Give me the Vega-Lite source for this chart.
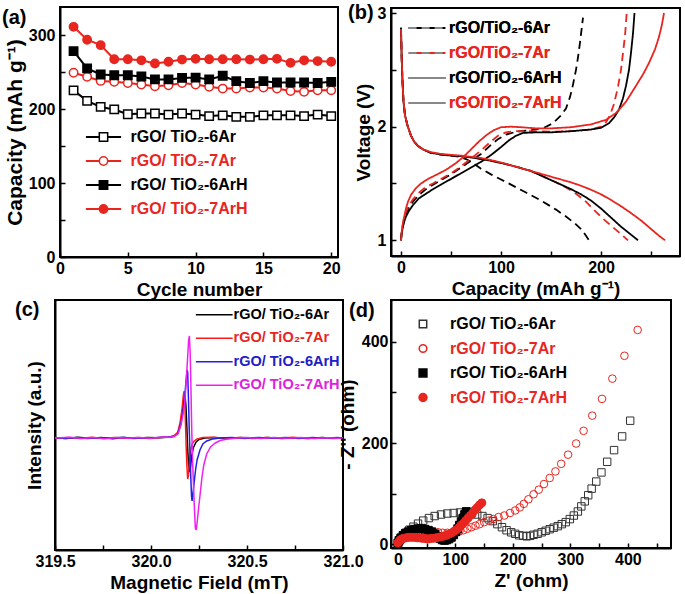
{
  "$schema": "https://vega.github.io/schema/vega-lite/v6.json",
  "background": "white",
  "padding": {"left": 1, "top": 2, "right": 0, "bottom": 0},
  "config": {
    "font": "Liberation Sans",
    "view": {"stroke": "black", "strokeWidth": 2},
    "axis": {
      "grid": false, "domainColor": "black", "domainWidth": 2,
      "tickColor": "black", "tickWidth": 1.5, "tickSize": -5,
      "labelFont": "Liberation Sans", "labelFontSize": 16, "labelFontWeight": "bold", "labelColor": "black",
      "labelPadding": 8, "labelFlush": false, "labelOverlap": false,
      "titleFont": "Liberation Sans", "titleFontSize": 19, "titleFontWeight": "bold", "titleColor": "black"
    },
    "legend": {
      "labelFont": "Liberation Sans", "labelFontSize": 16, "labelFontWeight": "bold",
      "padding": 0, "orient": "none"
    },
    "title": {"font": "Liberation Sans", "fontSize": 20, "fontWeight": "bold", "color": "black", "anchor": "start", "frame": "group", "baseline": "middle", "offset": 0}
  },
  "datasets": {
    "a": [
      {"s":"rGO/ TiO₂-6Ar","c":1,"v":225.3},{"s":"rGO/ TiO₂-6Ar","c":2,"v":211.1},{"s":"rGO/ TiO₂-6Ar","c":3,"v":202.9},{"s":"rGO/ TiO₂-6Ar","c":4,"v":199.5},{"s":"rGO/ TiO₂-6Ar","c":5,"v":193.0},{"s":"rGO/ TiO₂-6Ar","c":6,"v":194.0},{"s":"rGO/ TiO₂-6Ar","c":7,"v":194.0},{"s":"rGO/ TiO₂-6Ar","c":8,"v":192.5},{"s":"rGO/ TiO₂-6Ar","c":9,"v":194.0},{"s":"rGO/ TiO₂-6Ar","c":10,"v":192.5},{"s":"rGO/ TiO₂-6Ar","c":11,"v":190.5},{"s":"rGO/ TiO₂-6Ar","c":12,"v":191.5},{"s":"rGO/ TiO₂-6Ar","c":13,"v":189.5},{"s":"rGO/ TiO₂-6Ar","c":14,"v":189.5},{"s":"rGO/ TiO₂-6Ar","c":15,"v":191.5},{"s":"rGO/ TiO₂-6Ar","c":16,"v":191.5},{"s":"rGO/ TiO₂-6Ar","c":17,"v":191.5},{"s":"rGO/ TiO₂-6Ar","c":18,"v":190.5},{"s":"rGO/ TiO₂-6Ar","c":19,"v":192.5},{"s":"rGO/ TiO₂-6Ar","c":20,"v":190.5},
      {"s":"rGO/ TiO₂-7Ar","c":1,"v":249.1},{"s":"rGO/ TiO₂-7Ar","c":2,"v":243.6},{"s":"rGO/ TiO₂-7Ar","c":3,"v":238.1},{"s":"rGO/ TiO₂-7Ar","c":4,"v":236.8},{"s":"rGO/ TiO₂-7Ar","c":5,"v":235.2},{"s":"rGO/ TiO₂-7Ar","c":6,"v":233.2},{"s":"rGO/ TiO₂-7Ar","c":7,"v":230.9},{"s":"rGO/ TiO₂-7Ar","c":8,"v":232.2},{"s":"rGO/ TiO₂-7Ar","c":9,"v":235.2},{"s":"rGO/ TiO₂-7Ar","c":10,"v":233.2},{"s":"rGO/ TiO₂-7Ar","c":11,"v":230.2},{"s":"rGO/ TiO₂-7Ar","c":12,"v":227.7},{"s":"rGO/ TiO₂-7Ar","c":13,"v":227.7},{"s":"rGO/ TiO₂-7Ar","c":14,"v":229.2},{"s":"rGO/ TiO₂-7Ar","c":15,"v":229.2},{"s":"rGO/ TiO₂-7Ar","c":16,"v":227.7},{"s":"rGO/ TiO₂-7Ar","c":17,"v":224.3},{"s":"rGO/ TiO₂-7Ar","c":18,"v":223.3},{"s":"rGO/ TiO₂-7Ar","c":19,"v":225.3},{"s":"rGO/ TiO₂-7Ar","c":20,"v":225.3},
      {"s":"rGO/ TiO₂-6ArH","c":1,"v":278.3},{"s":"rGO/ TiO₂-6ArH","c":2,"v":255.0},{"s":"rGO/ TiO₂-6ArH","c":3,"v":246.7},{"s":"rGO/ TiO₂-6ArH","c":4,"v":245.8},{"s":"rGO/ TiO₂-6ArH","c":5,"v":245.8},{"s":"rGO/ TiO₂-6ArH","c":6,"v":244.1},{"s":"rGO/ TiO₂-6ArH","c":7,"v":240.1},{"s":"rGO/ TiO₂-6ArH","c":8,"v":240.1},{"s":"rGO/ TiO₂-6ArH","c":9,"v":242.1},{"s":"rGO/ TiO₂-6ArH","c":10,"v":242.6},{"s":"rGO/ TiO₂-6ArH","c":11,"v":240.1},{"s":"rGO/ TiO₂-6ArH","c":12,"v":245.1},{"s":"rGO/ TiO₂-6ArH","c":13,"v":237.7},{"s":"rGO/ TiO₂-6ArH","c":14,"v":235.2},{"s":"rGO/ TiO₂-6ArH","c":15,"v":237.7},{"s":"rGO/ TiO₂-6ArH","c":16,"v":235.9},{"s":"rGO/ TiO₂-6ArH","c":17,"v":235.9},{"s":"rGO/ TiO₂-6ArH","c":18,"v":235.9},{"s":"rGO/ TiO₂-6ArH","c":19,"v":235.2},{"s":"rGO/ TiO₂-6ArH","c":20,"v":236.8},
      {"s":"rGO/ TiO₂-7ArH","c":1,"v":311.2},{"s":"rGO/ TiO₂-7ArH","c":2,"v":293.7},{"s":"rGO/ TiO₂-7ArH","c":3,"v":286.4},{"s":"rGO/ TiO₂-7ArH","c":4,"v":267.4},{"s":"rGO/ TiO₂-7ArH","c":5,"v":267.4},{"s":"rGO/ TiO₂-7ArH","c":6,"v":265.9},{"s":"rGO/ TiO₂-7ArH","c":7,"v":261.6},{"s":"rGO/ TiO₂-7ArH","c":8,"v":264.0},{"s":"rGO/ TiO₂-7ArH","c":9,"v":266.9},{"s":"rGO/ TiO₂-7ArH","c":10,"v":267.9},{"s":"rGO/ TiO₂-7ArH","c":11,"v":267.4},{"s":"rGO/ TiO₂-7ArH","c":12,"v":267.4},{"s":"rGO/ TiO₂-7ArH","c":13,"v":267.4},{"s":"rGO/ TiO₂-7ArH","c":14,"v":266.9},{"s":"rGO/ TiO₂-7ArH","c":15,"v":267.4},{"s":"rGO/ TiO₂-7ArH","c":16,"v":267.9},{"s":"rGO/ TiO₂-7ArH","c":17,"v":262.5},{"s":"rGO/ TiO₂-7ArH","c":18,"v":265.9},{"s":"rGO/ TiO₂-7ArH","c":19,"v":264.9},{"s":"rGO/ TiO₂-7ArH","c":20,"v":264.0}
    ],
    "b": [
      {"s":"rGO/TiO₂-6Ar","k":"d","x":0,"y":2.87},{"s":"rGO/TiO₂-6Ar","k":"d","x":0.7,"y":2.6},{"s":"rGO/TiO₂-6Ar","k":"d","x":1.5,"y":2.4},{"s":"rGO/TiO₂-6Ar","k":"d","x":2.5,"y":2.22},{"s":"rGO/TiO₂-6Ar","k":"d","x":4,"y":2.1},{"s":"rGO/TiO₂-6Ar","k":"d","x":6.5,"y":2.01},{"s":"rGO/TiO₂-6Ar","k":"d","x":10,"y":1.92},{"s":"rGO/TiO₂-6Ar","k":"d","x":13,"y":1.87},{"s":"rGO/TiO₂-6Ar","k":"d","x":17,"y":1.83},{"s":"rGO/TiO₂-6Ar","k":"d","x":22,"y":1.8},{"s":"rGO/TiO₂-6Ar","k":"d","x":30,"y":1.77},{"s":"rGO/TiO₂-6Ar","k":"d","x":40,"y":1.755},{"s":"rGO/TiO₂-6Ar","k":"d","x":50,"y":1.745},{"s":"rGO/TiO₂-6Ar","k":"d","x":58,"y":1.735},{"s":"rGO/TiO₂-6Ar","k":"d","x":65,"y":1.715},{"s":"rGO/TiO₂-6Ar","k":"d","x":72,"y":1.68},{"s":"rGO/TiO₂-6Ar","k":"d","x":80,"y":1.63},{"s":"rGO/TiO₂-6Ar","k":"d","x":90,"y":1.58},{"s":"rGO/TiO₂-6Ar","k":"d","x":100,"y":1.535},{"s":"rGO/TiO₂-6Ar","k":"d","x":110,"y":1.49},{"s":"rGO/TiO₂-6Ar","k":"d","x":125,"y":1.42},{"s":"rGO/TiO₂-6Ar","k":"d","x":141,"y":1.345},{"s":"rGO/TiO₂-6Ar","k":"d","x":155,"y":1.27},{"s":"rGO/TiO₂-6Ar","k":"d","x":165,"y":1.21},{"s":"rGO/TiO₂-6Ar","k":"d","x":175,"y":1.14},{"s":"rGO/TiO₂-6Ar","k":"d","x":181,"y":1.09},{"s":"rGO/TiO₂-6Ar","k":"d","x":185,"y":1.04},{"s":"rGO/TiO₂-6Ar","k":"d","x":188,"y":1.0},
      {"s":"rGO/TiO₂-6Ar","k":"c","x":0,"y":1.0},{"s":"rGO/TiO₂-6Ar","k":"c","x":0.5,"y":1.05},{"s":"rGO/TiO₂-6Ar","k":"c","x":1.5,"y":1.11},{"s":"rGO/TiO₂-6Ar","k":"c","x":3,"y":1.17},{"s":"rGO/TiO₂-6Ar","k":"c","x":5,"y":1.23},{"s":"rGO/TiO₂-6Ar","k":"c","x":8,"y":1.29},{"s":"rGO/TiO₂-6Ar","k":"c","x":12,"y":1.34},{"s":"rGO/TiO₂-6Ar","k":"c","x":18,"y":1.4},{"s":"rGO/TiO₂-6Ar","k":"c","x":25,"y":1.45},{"s":"rGO/TiO₂-6Ar","k":"c","x":32,"y":1.49},{"s":"rGO/TiO₂-6Ar","k":"c","x":40,"y":1.53},{"s":"rGO/TiO₂-6Ar","k":"c","x":50,"y":1.58},{"s":"rGO/TiO₂-6Ar","k":"c","x":60,"y":1.64},{"s":"rGO/TiO₂-6Ar","k":"c","x":70,"y":1.7},{"s":"rGO/TiO₂-6Ar","k":"c","x":80,"y":1.76},{"s":"rGO/TiO₂-6Ar","k":"c","x":90,"y":1.84},{"s":"rGO/TiO₂-6Ar","k":"c","x":97,"y":1.89},{"s":"rGO/TiO₂-6Ar","k":"c","x":105,"y":1.93},{"s":"rGO/TiO₂-6Ar","k":"c","x":115,"y":1.955},{"s":"rGO/TiO₂-6Ar","k":"c","x":130,"y":1.97},{"s":"rGO/TiO₂-6Ar","k":"c","x":143,"y":1.99},{"s":"rGO/TiO₂-6Ar","k":"c","x":152,"y":2.03},{"s":"rGO/TiO₂-6Ar","k":"c","x":160,"y":2.1},{"s":"rGO/TiO₂-6Ar","k":"c","x":165,"y":2.16},{"s":"rGO/TiO₂-6Ar","k":"c","x":169,"y":2.26},{"s":"rGO/TiO₂-6Ar","k":"c","x":172,"y":2.37},{"s":"rGO/TiO₂-6Ar","k":"c","x":175,"y":2.5},{"s":"rGO/TiO₂-6Ar","k":"c","x":177,"y":2.61},{"s":"rGO/TiO₂-6Ar","k":"c","x":179,"y":2.74},{"s":"rGO/TiO₂-6Ar","k":"c","x":180.5,"y":2.85},{"s":"rGO/TiO₂-6Ar","k":"c","x":182,"y":2.96},
      {"s":"rGO/TiO₂-7Ar","k":"d","x":0,"y":2.86},{"s":"rGO/TiO₂-7Ar","k":"d","x":0.7,"y":2.6},{"s":"rGO/TiO₂-7Ar","k":"d","x":1.5,"y":2.4},{"s":"rGO/TiO₂-7Ar","k":"d","x":2.5,"y":2.22},{"s":"rGO/TiO₂-7Ar","k":"d","x":4,"y":2.1},{"s":"rGO/TiO₂-7Ar","k":"d","x":6.5,"y":2.01},{"s":"rGO/TiO₂-7Ar","k":"d","x":10,"y":1.92},{"s":"rGO/TiO₂-7Ar","k":"d","x":13,"y":1.87},{"s":"rGO/TiO₂-7Ar","k":"d","x":17,"y":1.83},{"s":"rGO/TiO₂-7Ar","k":"d","x":22,"y":1.8},{"s":"rGO/TiO₂-7Ar","k":"d","x":30,"y":1.77},{"s":"rGO/TiO₂-7Ar","k":"d","x":40,"y":1.755},{"s":"rGO/TiO₂-7Ar","k":"d","x":50,"y":1.745},{"s":"rGO/TiO₂-7Ar","k":"d","x":60,"y":1.74},{"s":"rGO/TiO₂-7Ar","k":"d","x":70,"y":1.73},{"s":"rGO/TiO₂-7Ar","k":"d","x":80,"y":1.715},{"s":"rGO/TiO₂-7Ar","k":"d","x":90,"y":1.7},{"s":"rGO/TiO₂-7Ar","k":"d","x":100,"y":1.68},{"s":"rGO/TiO₂-7Ar","k":"d","x":110,"y":1.66},{"s":"rGO/TiO₂-7Ar","k":"d","x":120,"y":1.635},{"s":"rGO/TiO₂-7Ar","k":"d","x":130,"y":1.61},{"s":"rGO/TiO₂-7Ar","k":"d","x":140,"y":1.57},{"s":"rGO/TiO₂-7Ar","k":"d","x":150,"y":1.53},{"s":"rGO/TiO₂-7Ar","k":"d","x":160,"y":1.49},{"s":"rGO/TiO₂-7Ar","k":"d","x":168,"y":1.45},{"s":"rGO/TiO₂-7Ar","k":"d","x":175,"y":1.41},{"s":"rGO/TiO₂-7Ar","k":"d","x":185,"y":1.34},{"s":"rGO/TiO₂-7Ar","k":"d","x":195,"y":1.25},{"s":"rGO/TiO₂-7Ar","k":"d","x":202,"y":1.19},{"s":"rGO/TiO₂-7Ar","k":"d","x":210,"y":1.13},{"s":"rGO/TiO₂-7Ar","k":"d","x":218,"y":1.07},{"s":"rGO/TiO₂-7Ar","k":"d","x":227,"y":1.0},
      {"s":"rGO/TiO₂-7Ar","k":"c","x":0,"y":1.0},{"s":"rGO/TiO₂-7Ar","k":"c","x":0.5,"y":1.06},{"s":"rGO/TiO₂-7Ar","k":"c","x":1.5,"y":1.12},{"s":"rGO/TiO₂-7Ar","k":"c","x":3,"y":1.19},{"s":"rGO/TiO₂-7Ar","k":"c","x":5,"y":1.25},{"s":"rGO/TiO₂-7Ar","k":"c","x":8,"y":1.31},{"s":"rGO/TiO₂-7Ar","k":"c","x":12,"y":1.36},{"s":"rGO/TiO₂-7Ar","k":"c","x":18,"y":1.42},{"s":"rGO/TiO₂-7Ar","k":"c","x":25,"y":1.47},{"s":"rGO/TiO₂-7Ar","k":"c","x":32,"y":1.5},{"s":"rGO/TiO₂-7Ar","k":"c","x":40,"y":1.54},{"s":"rGO/TiO₂-7Ar","k":"c","x":50,"y":1.59},{"s":"rGO/TiO₂-7Ar","k":"c","x":60,"y":1.65},{"s":"rGO/TiO₂-7Ar","k":"c","x":70,"y":1.72},{"s":"rGO/TiO₂-7Ar","k":"c","x":80,"y":1.79},{"s":"rGO/TiO₂-7Ar","k":"c","x":90,"y":1.87},{"s":"rGO/TiO₂-7Ar","k":"c","x":97,"y":1.92},{"s":"rGO/TiO₂-7Ar","k":"c","x":105,"y":1.95},{"s":"rGO/TiO₂-7Ar","k":"c","x":113,"y":1.96},{"s":"rGO/TiO₂-7Ar","k":"c","x":130,"y":1.96},{"s":"rGO/TiO₂-7Ar","k":"c","x":150,"y":1.955},{"s":"rGO/TiO₂-7Ar","k":"c","x":170,"y":1.96},{"s":"rGO/TiO₂-7Ar","k":"c","x":190,"y":1.975},{"s":"rGO/TiO₂-7Ar","k":"c","x":200,"y":2.0},{"s":"rGO/TiO₂-7Ar","k":"c","x":205,"y":2.04},{"s":"rGO/TiO₂-7Ar","k":"c","x":209,"y":2.1},{"s":"rGO/TiO₂-7Ar","k":"c","x":213,"y":2.2},{"s":"rGO/TiO₂-7Ar","k":"c","x":217,"y":2.35},{"s":"rGO/TiO₂-7Ar","k":"c","x":220,"y":2.5},{"s":"rGO/TiO₂-7Ar","k":"c","x":222,"y":2.65},{"s":"rGO/TiO₂-7Ar","k":"c","x":224,"y":2.8},{"s":"rGO/TiO₂-7Ar","k":"c","x":225.7,"y":3.0},
      {"s":"rGO/TiO₂-6ArH","k":"d","x":0,"y":2.87},{"s":"rGO/TiO₂-6ArH","k":"d","x":0.7,"y":2.6},{"s":"rGO/TiO₂-6ArH","k":"d","x":1.5,"y":2.4},{"s":"rGO/TiO₂-6ArH","k":"d","x":2.5,"y":2.22},{"s":"rGO/TiO₂-6ArH","k":"d","x":4,"y":2.1},{"s":"rGO/TiO₂-6ArH","k":"d","x":6.5,"y":2.01},{"s":"rGO/TiO₂-6ArH","k":"d","x":10,"y":1.92},{"s":"rGO/TiO₂-6ArH","k":"d","x":13,"y":1.87},{"s":"rGO/TiO₂-6ArH","k":"d","x":17,"y":1.83},{"s":"rGO/TiO₂-6ArH","k":"d","x":22,"y":1.8},{"s":"rGO/TiO₂-6ArH","k":"d","x":30,"y":1.77},{"s":"rGO/TiO₂-6ArH","k":"d","x":40,"y":1.755},{"s":"rGO/TiO₂-6ArH","k":"d","x":50,"y":1.745},{"s":"rGO/TiO₂-6ArH","k":"d","x":60,"y":1.74},{"s":"rGO/TiO₂-6ArH","k":"d","x":70,"y":1.73},{"s":"rGO/TiO₂-6ArH","k":"d","x":80,"y":1.715},{"s":"rGO/TiO₂-6ArH","k":"d","x":90,"y":1.7},{"s":"rGO/TiO₂-6ArH","k":"d","x":100,"y":1.68},{"s":"rGO/TiO₂-6ArH","k":"d","x":110,"y":1.66},{"s":"rGO/TiO₂-6ArH","k":"d","x":120,"y":1.635},{"s":"rGO/TiO₂-6ArH","k":"d","x":130,"y":1.61},{"s":"rGO/TiO₂-6ArH","k":"d","x":140,"y":1.57},{"s":"rGO/TiO₂-6ArH","k":"d","x":150,"y":1.53},{"s":"rGO/TiO₂-6ArH","k":"d","x":160,"y":1.49},{"s":"rGO/TiO₂-6ArH","k":"d","x":170,"y":1.45},{"s":"rGO/TiO₂-6ArH","k":"d","x":180,"y":1.405},{"s":"rGO/TiO₂-6ArH","k":"d","x":190,"y":1.35},{"s":"rGO/TiO₂-6ArH","k":"d","x":200,"y":1.28},{"s":"rGO/TiO₂-6ArH","k":"d","x":210,"y":1.2},{"s":"rGO/TiO₂-6ArH","k":"d","x":220,"y":1.12},{"s":"rGO/TiO₂-6ArH","k":"d","x":230,"y":1.05},{"s":"rGO/TiO₂-6ArH","k":"d","x":237,"y":1.0},
      {"s":"rGO/TiO₂-6ArH","k":"c","x":0,"y":1.0},{"s":"rGO/TiO₂-6ArH","k":"c","x":0.5,"y":1.05},{"s":"rGO/TiO₂-6ArH","k":"c","x":1.5,"y":1.1},{"s":"rGO/TiO₂-6ArH","k":"c","x":3,"y":1.16},{"s":"rGO/TiO₂-6ArH","k":"c","x":5,"y":1.21},{"s":"rGO/TiO₂-6ArH","k":"c","x":8,"y":1.26},{"s":"rGO/TiO₂-6ArH","k":"c","x":12,"y":1.31},{"s":"rGO/TiO₂-6ArH","k":"c","x":18,"y":1.37},{"s":"rGO/TiO₂-6ArH","k":"c","x":25,"y":1.41},{"s":"rGO/TiO₂-6ArH","k":"c","x":32,"y":1.45},{"s":"rGO/TiO₂-6ArH","k":"c","x":40,"y":1.49},{"s":"rGO/TiO₂-6ArH","k":"c","x":50,"y":1.54},{"s":"rGO/TiO₂-6ArH","k":"c","x":60,"y":1.59},{"s":"rGO/TiO₂-6ArH","k":"c","x":70,"y":1.64},{"s":"rGO/TiO₂-6ArH","k":"c","x":80,"y":1.69},{"s":"rGO/TiO₂-6ArH","k":"c","x":90,"y":1.75},{"s":"rGO/TiO₂-6ArH","k":"c","x":100,"y":1.82},{"s":"rGO/TiO₂-6ArH","k":"c","x":108,"y":1.88},{"s":"rGO/TiO₂-6ArH","k":"c","x":115,"y":1.92},{"s":"rGO/TiO₂-6ArH","k":"c","x":122,"y":1.945},{"s":"rGO/TiO₂-6ArH","k":"c","x":135,"y":1.95},{"s":"rGO/TiO₂-6ArH","k":"c","x":150,"y":1.95},{"s":"rGO/TiO₂-6ArH","k":"c","x":170,"y":1.96},{"s":"rGO/TiO₂-6ArH","k":"c","x":190,"y":1.975},{"s":"rGO/TiO₂-6ArH","k":"c","x":200,"y":1.99},{"s":"rGO/TiO₂-6ArH","k":"c","x":208,"y":2.03},{"s":"rGO/TiO₂-6ArH","k":"c","x":213,"y":2.08},{"s":"rGO/TiO₂-6ArH","k":"c","x":218,"y":2.15},{"s":"rGO/TiO₂-6ArH","k":"c","x":222,"y":2.25},{"s":"rGO/TiO₂-6ArH","k":"c","x":225,"y":2.36},{"s":"rGO/TiO₂-6ArH","k":"c","x":228,"y":2.5},{"s":"rGO/TiO₂-6ArH","k":"c","x":230,"y":2.65},{"s":"rGO/TiO₂-6ArH","k":"c","x":232,"y":2.82},{"s":"rGO/TiO₂-6ArH","k":"c","x":233.5,"y":3.0},
      {"s":"rGO/TiO₂-7ArH","k":"d","x":0,"y":2.86},{"s":"rGO/TiO₂-7ArH","k":"d","x":0.7,"y":2.6},{"s":"rGO/TiO₂-7ArH","k":"d","x":1.5,"y":2.4},{"s":"rGO/TiO₂-7ArH","k":"d","x":2.5,"y":2.22},{"s":"rGO/TiO₂-7ArH","k":"d","x":4,"y":2.1},{"s":"rGO/TiO₂-7ArH","k":"d","x":6.5,"y":2.01},{"s":"rGO/TiO₂-7ArH","k":"d","x":10,"y":1.92},{"s":"rGO/TiO₂-7ArH","k":"d","x":13,"y":1.87},{"s":"rGO/TiO₂-7ArH","k":"d","x":17,"y":1.83},{"s":"rGO/TiO₂-7ArH","k":"d","x":22,"y":1.8},{"s":"rGO/TiO₂-7ArH","k":"d","x":30,"y":1.775},{"s":"rGO/TiO₂-7ArH","k":"d","x":40,"y":1.76},{"s":"rGO/TiO₂-7ArH","k":"d","x":50,"y":1.752},{"s":"rGO/TiO₂-7ArH","k":"d","x":60,"y":1.745},{"s":"rGO/TiO₂-7ArH","k":"d","x":70,"y":1.735},{"s":"rGO/TiO₂-7ArH","k":"d","x":80,"y":1.725},{"s":"rGO/TiO₂-7ArH","k":"d","x":90,"y":1.705},{"s":"rGO/TiO₂-7ArH","k":"d","x":100,"y":1.685},{"s":"rGO/TiO₂-7ArH","k":"d","x":110,"y":1.66},{"s":"rGO/TiO₂-7ArH","k":"d","x":120,"y":1.635},{"s":"rGO/TiO₂-7ArH","k":"d","x":130,"y":1.61},{"s":"rGO/TiO₂-7ArH","k":"d","x":140,"y":1.585},{"s":"rGO/TiO₂-7ArH","k":"d","x":150,"y":1.56},{"s":"rGO/TiO₂-7ArH","k":"d","x":160,"y":1.535},{"s":"rGO/TiO₂-7ArH","k":"d","x":170,"y":1.51},{"s":"rGO/TiO₂-7ArH","k":"d","x":180,"y":1.48},{"s":"rGO/TiO₂-7ArH","k":"d","x":190,"y":1.445},{"s":"rGO/TiO₂-7ArH","k":"d","x":200,"y":1.405},{"s":"rGO/TiO₂-7ArH","k":"d","x":210,"y":1.355},{"s":"rGO/TiO₂-7ArH","k":"d","x":220,"y":1.3},{"s":"rGO/TiO₂-7ArH","k":"d","x":230,"y":1.24},{"s":"rGO/TiO₂-7ArH","k":"d","x":240,"y":1.175},{"s":"rGO/TiO₂-7ArH","k":"d","x":250,"y":1.1},{"s":"rGO/TiO₂-7ArH","k":"d","x":258,"y":1.04},{"s":"rGO/TiO₂-7ArH","k":"d","x":264,"y":1.0},
      {"s":"rGO/TiO₂-7ArH","k":"c","x":0,"y":1.0},{"s":"rGO/TiO₂-7ArH","k":"c","x":0.5,"y":1.06},{"s":"rGO/TiO₂-7ArH","k":"c","x":1.5,"y":1.13},{"s":"rGO/TiO₂-7ArH","k":"c","x":3,"y":1.2},{"s":"rGO/TiO₂-7ArH","k":"c","x":5,"y":1.28},{"s":"rGO/TiO₂-7ArH","k":"c","x":7,"y":1.34},{"s":"rGO/TiO₂-7ArH","k":"c","x":10,"y":1.4},{"s":"rGO/TiO₂-7ArH","k":"c","x":15,"y":1.46},{"s":"rGO/TiO₂-7ArH","k":"c","x":20,"y":1.5},{"s":"rGO/TiO₂-7ArH","k":"c","x":27,"y":1.54},{"s":"rGO/TiO₂-7ArH","k":"c","x":35,"y":1.575},{"s":"rGO/TiO₂-7ArH","k":"c","x":45,"y":1.62},{"s":"rGO/TiO₂-7ArH","k":"c","x":55,"y":1.68},{"s":"rGO/TiO₂-7ArH","k":"c","x":62,"y":1.73},{"s":"rGO/TiO₂-7ArH","k":"c","x":70,"y":1.8},{"s":"rGO/TiO₂-7ArH","k":"c","x":78,"y":1.87},{"s":"rGO/TiO₂-7ArH","k":"c","x":86,"y":1.93},{"s":"rGO/TiO₂-7ArH","k":"c","x":93,"y":1.97},{"s":"rGO/TiO₂-7ArH","k":"c","x":100,"y":1.995},{"s":"rGO/TiO₂-7ArH","k":"c","x":110,"y":2.0},{"s":"rGO/TiO₂-7ArH","k":"c","x":120,"y":1.995},{"s":"rGO/TiO₂-7ArH","k":"c","x":135,"y":1.985},{"s":"rGO/TiO₂-7ArH","k":"c","x":150,"y":1.985},{"s":"rGO/TiO₂-7ArH","k":"c","x":170,"y":1.995},{"s":"rGO/TiO₂-7ArH","k":"c","x":190,"y":2.02},{"s":"rGO/TiO₂-7ArH","k":"c","x":205,"y":2.06},{"s":"rGO/TiO₂-7ArH","k":"c","x":215,"y":2.12},{"s":"rGO/TiO₂-7ArH","k":"c","x":225,"y":2.22},{"s":"rGO/TiO₂-7ArH","k":"c","x":235,"y":2.36},{"s":"rGO/TiO₂-7ArH","k":"c","x":242,"y":2.46},{"s":"rGO/TiO₂-7ArH","k":"c","x":248,"y":2.56},{"s":"rGO/TiO₂-7ArH","k":"c","x":254,"y":2.68},{"s":"rGO/TiO₂-7ArH","k":"c","x":258,"y":2.79},{"s":"rGO/TiO₂-7ArH","k":"c","x":261,"y":2.9},{"s":"rGO/TiO₂-7ArH","k":"c","x":263,"y":3.0}
    ],
    "c": [
      {"s":"rGO/ TiO₂-6Ar","f":319.5,"i":0.3},{"s":"rGO/ TiO₂-6Ar","f":319.56,"i":-0.6},{"s":"rGO/ TiO₂-6Ar","f":319.62,"i":0.7},{"s":"rGO/ TiO₂-6Ar","f":319.68,"i":-0.3},{"s":"rGO/ TiO₂-6Ar","f":319.74,"i":0.5},{"s":"rGO/ TiO₂-6Ar","f":319.8,"i":-0.7},{"s":"rGO/ TiO₂-6Ar","f":319.86,"i":0.4},{"s":"rGO/ TiO₂-6Ar","f":319.92,"i":-0.2},{"s":"rGO/ TiO₂-6Ar","f":319.98,"i":0.6},{"s":"rGO/ TiO₂-6Ar","f":320.04,"i":0.2},{"s":"rGO/ TiO₂-6Ar","f":320.09,"i":0.8},{"s":"rGO/ TiO₂-6Ar","f":320.12,"i":2},{"s":"rGO/ TiO₂-6Ar","f":320.14,"i":5},{"s":"rGO/ TiO₂-6Ar","f":320.155,"i":14},{"s":"rGO/ TiO₂-6Ar","f":320.165,"i":28},{"s":"rGO/ TiO₂-6Ar","f":320.172,"i":38},{"s":"rGO/ TiO₂-6Ar","f":320.177,"i":43},{"s":"rGO/ TiO₂-6Ar","f":320.182,"i":32},{"s":"rGO/ TiO₂-6Ar","f":320.187,"i":10},{"s":"rGO/ TiO₂-6Ar","f":320.191,"i":-10},{"s":"rGO/ TiO₂-6Ar","f":320.195,"i":-25},{"s":"rGO/ TiO₂-6Ar","f":320.2,"i":-34},{"s":"rGO/ TiO₂-6Ar","f":320.205,"i":-30},{"s":"rGO/ TiO₂-6Ar","f":320.212,"i":-18},{"s":"rGO/ TiO₂-6Ar","f":320.22,"i":-10},{"s":"rGO/ TiO₂-6Ar","f":320.235,"i":-4},{"s":"rGO/ TiO₂-6Ar","f":320.25,"i":-1.5},{"s":"rGO/ TiO₂-6Ar","f":320.28,"i":0},{"s":"rGO/ TiO₂-6Ar","f":320.33,"i":0.5},{"s":"rGO/ TiO₂-6Ar","f":320.4,"i":-0.4},{"s":"rGO/ TiO₂-6Ar","f":320.47,"i":0.6},{"s":"rGO/ TiO₂-6Ar","f":320.54,"i":-0.3},{"s":"rGO/ TiO₂-6Ar","f":320.61,"i":0.5},{"s":"rGO/ TiO₂-6Ar","f":320.68,"i":-0.5},{"s":"rGO/ TiO₂-6Ar","f":320.75,"i":0.3},{"s":"rGO/ TiO₂-6Ar","f":320.82,"i":-0.4},{"s":"rGO/ TiO₂-6Ar","f":320.89,"i":0.6},{"s":"rGO/ TiO₂-6Ar","f":320.95,"i":-0.2},{"s":"rGO/ TiO₂-6Ar","f":321.0,"i":0.2},
      {"s":"rGO/ TiO₂-7Ar","f":319.5,"i":-0.2},{"s":"rGO/ TiO₂-7Ar","f":319.57,"i":0.6},{"s":"rGO/ TiO₂-7Ar","f":319.63,"i":-0.5},{"s":"rGO/ TiO₂-7Ar","f":319.69,"i":0.8},{"s":"rGO/ TiO₂-7Ar","f":319.75,"i":-0.4},{"s":"rGO/ TiO₂-7Ar","f":319.81,"i":0.6},{"s":"rGO/ TiO₂-7Ar","f":319.87,"i":-0.3},{"s":"rGO/ TiO₂-7Ar","f":319.93,"i":0.5},{"s":"rGO/ TiO₂-7Ar","f":319.99,"i":-0.4},{"s":"rGO/ TiO₂-7Ar","f":320.05,"i":0.6},{"s":"rGO/ TiO₂-7Ar","f":320.09,"i":1},{"s":"rGO/ TiO₂-7Ar","f":320.12,"i":2},{"s":"rGO/ TiO₂-7Ar","f":320.14,"i":6},{"s":"rGO/ TiO₂-7Ar","f":320.152,"i":16},{"s":"rGO/ TiO₂-7Ar","f":320.162,"i":30},{"s":"rGO/ TiO₂-7Ar","f":320.168,"i":42},{"s":"rGO/ TiO₂-7Ar","f":320.172,"i":47},{"s":"rGO/ TiO₂-7Ar","f":320.176,"i":35},{"s":"rGO/ TiO₂-7Ar","f":320.18,"i":12},{"s":"rGO/ TiO₂-7Ar","f":320.183,"i":-8},{"s":"rGO/ TiO₂-7Ar","f":320.187,"i":-28},{"s":"rGO/ TiO₂-7Ar","f":320.191,"i":-41},{"s":"rGO/ TiO₂-7Ar","f":320.195,"i":-38},{"s":"rGO/ TiO₂-7Ar","f":320.2,"i":-24},{"s":"rGO/ TiO₂-7Ar","f":320.206,"i":-13},{"s":"rGO/ TiO₂-7Ar","f":320.214,"i":-6},{"s":"rGO/ TiO₂-7Ar","f":320.225,"i":-3},{"s":"rGO/ TiO₂-7Ar","f":320.24,"i":-1},{"s":"rGO/ TiO₂-7Ar","f":320.27,"i":0.5},{"s":"rGO/ TiO₂-7Ar","f":320.32,"i":0.8},{"s":"rGO/ TiO₂-7Ar","f":320.39,"i":-0.3},{"s":"rGO/ TiO₂-7Ar","f":320.46,"i":0.6},{"s":"rGO/ TiO₂-7Ar","f":320.53,"i":-0.5},{"s":"rGO/ TiO₂-7Ar","f":320.6,"i":0.4},{"s":"rGO/ TiO₂-7Ar","f":320.67,"i":-0.3},{"s":"rGO/ TiO₂-7Ar","f":320.74,"i":0.7},{"s":"rGO/ TiO₂-7Ar","f":320.81,"i":-0.4},{"s":"rGO/ TiO₂-7Ar","f":320.88,"i":0.3},{"s":"rGO/ TiO₂-7Ar","f":320.95,"i":-0.5},{"s":"rGO/ TiO₂-7Ar","f":321.0,"i":0.1},
      {"s":"rGO/ TiO₂-6ArH","f":319.5,"i":0.4},{"s":"rGO/ TiO₂-6ArH","f":319.55,"i":-0.4},{"s":"rGO/ TiO₂-6ArH","f":319.61,"i":0.5},{"s":"rGO/ TiO₂-6ArH","f":319.67,"i":-0.6},{"s":"rGO/ TiO₂-6ArH","f":319.73,"i":0.3},{"s":"rGO/ TiO₂-6ArH","f":319.79,"i":-0.2},{"s":"rGO/ TiO₂-6ArH","f":319.85,"i":0.7},{"s":"rGO/ TiO₂-6ArH","f":319.91,"i":-0.5},{"s":"rGO/ TiO₂-6ArH","f":319.97,"i":0.3},{"s":"rGO/ TiO₂-6ArH","f":320.03,"i":0.5},{"s":"rGO/ TiO₂-6ArH","f":320.09,"i":1},{"s":"rGO/ TiO₂-6ArH","f":320.12,"i":1.5},{"s":"rGO/ TiO₂-6ArH","f":320.14,"i":5},{"s":"rGO/ TiO₂-6ArH","f":320.155,"i":14},{"s":"rGO/ TiO₂-6ArH","f":320.165,"i":24},{"s":"rGO/ TiO₂-6ArH","f":320.175,"i":40},{"s":"rGO/ TiO₂-6ArH","f":320.182,"i":56},{"s":"rGO/ TiO₂-6ArH","f":320.188,"i":68},{"s":"rGO/ TiO₂-6ArH","f":320.191,"i":66},{"s":"rGO/ TiO₂-6ArH","f":320.195,"i":40},{"s":"rGO/ TiO₂-6ArH","f":320.199,"i":10},{"s":"rGO/ TiO₂-6ArH","f":320.203,"i":-15},{"s":"rGO/ TiO₂-6ArH","f":320.207,"i":-38},{"s":"rGO/ TiO₂-6ArH","f":320.211,"i":-58},{"s":"rGO/ TiO₂-6ArH","f":320.214,"i":-63},{"s":"rGO/ TiO₂-6ArH","f":320.218,"i":-56},{"s":"rGO/ TiO₂-6ArH","f":320.224,"i":-46},{"s":"rGO/ TiO₂-6ArH","f":320.232,"i":-32},{"s":"rGO/ TiO₂-6ArH","f":320.24,"i":-22},{"s":"rGO/ TiO₂-6ArH","f":320.255,"i":-12},{"s":"rGO/ TiO₂-6ArH","f":320.27,"i":-6},{"s":"rGO/ TiO₂-6ArH","f":320.29,"i":-3},{"s":"rGO/ TiO₂-6ArH","f":320.32,"i":-1},{"s":"rGO/ TiO₂-6ArH","f":320.36,"i":0},{"s":"rGO/ TiO₂-6ArH","f":320.42,"i":0.4},{"s":"rGO/ TiO₂-6ArH","f":320.49,"i":-0.5},{"s":"rGO/ TiO₂-6ArH","f":320.56,"i":0.6},{"s":"rGO/ TiO₂-6ArH","f":320.63,"i":-0.3},{"s":"rGO/ TiO₂-6ArH","f":320.7,"i":0.4},{"s":"rGO/ TiO₂-6ArH","f":320.77,"i":-0.6},{"s":"rGO/ TiO₂-6ArH","f":320.84,"i":0.5},{"s":"rGO/ TiO₂-6ArH","f":320.91,"i":-0.2},{"s":"rGO/ TiO₂-6ArH","f":320.97,"i":0.4},{"s":"rGO/ TiO₂-6ArH","f":321.0,"i":0},
      {"s":"rGO/ TiO₂-7ArH","f":319.5,"i":0},{"s":"rGO/ TiO₂-7ArH","f":319.58,"i":0.7},{"s":"rGO/ TiO₂-7ArH","f":319.64,"i":-0.4},{"s":"rGO/ TiO₂-7ArH","f":319.7,"i":0.4},{"s":"rGO/ TiO₂-7ArH","f":319.76,"i":-0.7},{"s":"rGO/ TiO₂-7ArH","f":319.82,"i":0.5},{"s":"rGO/ TiO₂-7ArH","f":319.88,"i":-0.3},{"s":"rGO/ TiO₂-7ArH","f":319.94,"i":0.6},{"s":"rGO/ TiO₂-7ArH","f":320.0,"i":-0.2},{"s":"rGO/ TiO₂-7ArH","f":320.05,"i":0.7},{"s":"rGO/ TiO₂-7ArH","f":320.09,"i":0.8},{"s":"rGO/ TiO₂-7ArH","f":320.12,"i":1.5},{"s":"rGO/ TiO₂-7ArH","f":320.14,"i":4},{"s":"rGO/ TiO₂-7ArH","f":320.155,"i":12},{"s":"rGO/ TiO₂-7ArH","f":320.165,"i":22},{"s":"rGO/ TiO₂-7ArH","f":320.175,"i":34},{"s":"rGO/ TiO₂-7ArH","f":320.182,"i":52},{"s":"rGO/ TiO₂-7ArH","f":320.19,"i":78},{"s":"rGO/ TiO₂-7ArH","f":320.196,"i":98},{"s":"rGO/ TiO₂-7ArH","f":320.2,"i":102},{"s":"rGO/ TiO₂-7ArH","f":320.204,"i":85},{"s":"rGO/ TiO₂-7ArH","f":320.208,"i":50},{"s":"rGO/ TiO₂-7ArH","f":320.212,"i":10},{"s":"rGO/ TiO₂-7ArH","f":320.216,"i":-20},{"s":"rGO/ TiO₂-7ArH","f":320.221,"i":-45},{"s":"rGO/ TiO₂-7ArH","f":320.226,"i":-70},{"s":"rGO/ TiO₂-7ArH","f":320.231,"i":-90},{"s":"rGO/ TiO₂-7ArH","f":320.235,"i":-92},{"s":"rGO/ TiO₂-7ArH","f":320.24,"i":-85},{"s":"rGO/ TiO₂-7ArH","f":320.248,"i":-70},{"s":"rGO/ TiO₂-7ArH","f":320.256,"i":-56},{"s":"rGO/ TiO₂-7ArH","f":320.265,"i":-40},{"s":"rGO/ TiO₂-7ArH","f":320.275,"i":-27},{"s":"rGO/ TiO₂-7ArH","f":320.29,"i":-16},{"s":"rGO/ TiO₂-7ArH","f":320.31,"i":-9},{"s":"rGO/ TiO₂-7ArH","f":320.335,"i":-5},{"s":"rGO/ TiO₂-7ArH","f":320.36,"i":-2.5},{"s":"rGO/ TiO₂-7ArH","f":320.4,"i":-1},{"s":"rGO/ TiO₂-7ArH","f":320.45,"i":0},{"s":"rGO/ TiO₂-7ArH","f":320.5,"i":0.4},{"s":"rGO/ TiO₂-7ArH","f":320.57,"i":-0.5},{"s":"rGO/ TiO₂-7ArH","f":320.64,"i":0.5},{"s":"rGO/ TiO₂-7ArH","f":320.71,"i":-0.3},{"s":"rGO/ TiO₂-7ArH","f":320.78,"i":0.6},{"s":"rGO/ TiO₂-7ArH","f":320.85,"i":-0.4},{"s":"rGO/ TiO₂-7ArH","f":320.92,"i":0.3},{"s":"rGO/ TiO₂-7ArH","f":320.97,"i":-0.3},{"s":"rGO/ TiO₂-7ArH","f":321.0,"i":0.1}
    ],
    "d": [
      {"s":"rGO/ TiO₂-6Ar","x":0,"y":2},{"s":"rGO/ TiO₂-6Ar","x":2,"y":6},{"s":"rGO/ TiO₂-6Ar","x":5,"y":11},{"s":"rGO/ TiO₂-6Ar","x":9,"y":17},{"s":"rGO/ TiO₂-6Ar","x":14,"y":23},{"s":"rGO/ TiO₂-6Ar","x":20,"y":29},{"s":"rGO/ TiO₂-6Ar","x":27,"y":35},{"s":"rGO/ TiO₂-6Ar","x":35,"y":41},{"s":"rGO/ TiO₂-6Ar","x":44,"y":47},{"s":"rGO/ TiO₂-6Ar","x":54,"y":52},{"s":"rGO/ TiO₂-6Ar","x":64,"y":56},{"s":"rGO/ TiO₂-6Ar","x":75,"y":59},{"s":"rGO/ TiO₂-6Ar","x":86,"y":61},{"s":"rGO/ TiO₂-6Ar","x":97,"y":62},{"s":"rGO/ TiO₂-6Ar","x":108,"y":63},{"s":"rGO/ TiO₂-6Ar","x":118,"y":62},{"s":"rGO/ TiO₂-6Ar","x":128,"y":61},{"s":"rGO/ TiO₂-6Ar","x":138,"y":59},{"s":"rGO/ TiO₂-6Ar","x":147,"y":56},{"s":"rGO/ TiO₂-6Ar","x":156,"y":52},{"s":"rGO/ TiO₂-6Ar","x":165,"y":46},{"s":"rGO/ TiO₂-6Ar","x":173,"y":40},{"s":"rGO/ TiO₂-6Ar","x":181,"y":34},{"s":"rGO/ TiO₂-6Ar","x":189,"y":28},{"s":"rGO/ TiO₂-6Ar","x":197,"y":24},{"s":"rGO/ TiO₂-6Ar","x":204,"y":21},{"s":"rGO/ TiO₂-6Ar","x":211,"y":18},{"s":"rGO/ TiO₂-6Ar","x":218,"y":17},{"s":"rGO/ TiO₂-6Ar","x":224,"y":16},{"s":"rGO/ TiO₂-6Ar","x":230,"y":17},{"s":"rGO/ TiO₂-6Ar","x":236,"y":19},{"s":"rGO/ TiO₂-6Ar","x":243,"y":21},{"s":"rGO/ TiO₂-6Ar","x":250,"y":24},{"s":"rGO/ TiO₂-6Ar","x":257,"y":27},{"s":"rGO/ TiO₂-6Ar","x":264,"y":30},{"s":"rGO/ TiO₂-6Ar","x":271,"y":33},{"s":"rGO/ TiO₂-6Ar","x":278,"y":36},{"s":"rGO/ TiO₂-6Ar","x":285,"y":40},{"s":"rGO/ TiO₂-6Ar","x":292,"y":44},{"s":"rGO/ TiO₂-6Ar","x":299,"y":50},{"s":"rGO/ TiO₂-6Ar","x":306,"y":57},{"s":"rGO/ TiO₂-6Ar","x":313,"y":65},{"s":"rGO/ TiO₂-6Ar","x":319,"y":75},{"s":"rGO/ TiO₂-6Ar","x":325,"y":85},{"s":"rGO/ TiO₂-6Ar","x":331,"y":97},{"s":"rGO/ TiO₂-6Ar","x":337,"y":110},{"s":"rGO/ TiO₂-6Ar","x":345,"y":124},{"s":"rGO/ TiO₂-6Ar","x":354,"y":142},{"s":"rGO/ TiO₂-6Ar","x":364,"y":163},{"s":"rGO/ TiO₂-6Ar","x":376,"y":186},{"s":"rGO/ TiO₂-6Ar","x":390,"y":213},{"s":"rGO/ TiO₂-6Ar","x":404,"y":244},
      {"s":"rGO/ TiO₂-7Ar","x":2,"y":3},{"s":"rGO/ TiO₂-7Ar","x":5,"y":8},{"s":"rGO/ TiO₂-7Ar","x":10,"y":13},{"s":"rGO/ TiO₂-7Ar","x":15,"y":17},{"s":"rGO/ TiO₂-7Ar","x":20,"y":20},{"s":"rGO/ TiO₂-7Ar","x":27,"y":23},{"s":"rGO/ TiO₂-7Ar","x":35,"y":25},{"s":"rGO/ TiO₂-7Ar","x":43,"y":26},{"s":"rGO/ TiO₂-7Ar","x":52,"y":26},{"s":"rGO/ TiO₂-7Ar","x":61,"y":25},{"s":"rGO/ TiO₂-7Ar","x":70,"y":24},{"s":"rGO/ TiO₂-7Ar","x":78,"y":23},{"s":"rGO/ TiO₂-7Ar","x":86,"y":23},{"s":"rGO/ TiO₂-7Ar","x":93,"y":23},{"s":"rGO/ TiO₂-7Ar","x":100,"y":24},{"s":"rGO/ TiO₂-7Ar","x":107,"y":26},{"s":"rGO/ TiO₂-7Ar","x":114,"y":28},{"s":"rGO/ TiO₂-7Ar","x":121,"y":31},{"s":"rGO/ TiO₂-7Ar","x":128,"y":34},{"s":"rGO/ TiO₂-7Ar","x":135,"y":37},{"s":"rGO/ TiO₂-7Ar","x":142,"y":40},{"s":"rGO/ TiO₂-7Ar","x":150,"y":44},{"s":"rGO/ TiO₂-7Ar","x":158,"y":47},{"s":"rGO/ TiO₂-7Ar","x":166,"y":50},{"s":"rGO/ TiO₂-7Ar","x":175,"y":54},{"s":"rGO/ TiO₂-7Ar","x":185,"y":57},{"s":"rGO/ TiO₂-7Ar","x":195,"y":62},{"s":"rGO/ TiO₂-7Ar","x":204,"y":67},{"s":"rGO/ TiO₂-7Ar","x":212,"y":73},{"s":"rGO/ TiO₂-7Ar","x":219,"y":80},{"s":"rGO/ TiO₂-7Ar","x":227,"y":89},{"s":"rGO/ TiO₂-7Ar","x":236,"y":99},{"s":"rGO/ TiO₂-7Ar","x":245,"y":108},{"s":"rGO/ TiO₂-7Ar","x":254,"y":119},{"s":"rGO/ TiO₂-7Ar","x":264,"y":131},{"s":"rGO/ TiO₂-7Ar","x":274,"y":144},{"s":"rGO/ TiO₂-7Ar","x":284,"y":159},{"s":"rGO/ TiO₂-7Ar","x":296,"y":177},{"s":"rGO/ TiO₂-7Ar","x":310,"y":199},{"s":"rGO/ TiO₂-7Ar","x":323,"y":224},{"s":"rGO/ TiO₂-7Ar","x":338,"y":254},{"s":"rGO/ TiO₂-7Ar","x":355,"y":287},{"s":"rGO/ TiO₂-7Ar","x":373,"y":327},{"s":"rGO/ TiO₂-7Ar","x":394,"y":372},{"s":"rGO/ TiO₂-7Ar","x":417,"y":423},
      {"s":"rGO/ TiO₂-6ArH","x":0,"y":3},{"s":"rGO/ TiO₂-6ArH","x":2,"y":8},{"s":"rGO/ TiO₂-6ArH","x":5,"y":13},{"s":"rGO/ TiO₂-6ArH","x":9,"y":18},{"s":"rGO/ TiO₂-6ArH","x":13,"y":22},{"s":"rGO/ TiO₂-6ArH","x":18,"y":25},{"s":"rGO/ TiO₂-6ArH","x":23,"y":28},{"s":"rGO/ TiO₂-6ArH","x":29,"y":30},{"s":"rGO/ TiO₂-6ArH","x":35,"y":31},{"s":"rGO/ TiO₂-6ArH","x":41,"y":31},{"s":"rGO/ TiO₂-6ArH","x":47,"y":30},{"s":"rGO/ TiO₂-6ArH","x":53,"y":28},{"s":"rGO/ TiO₂-6ArH","x":59,"y":25},{"s":"rGO/ TiO₂-6ArH","x":64,"y":21},{"s":"rGO/ TiO₂-6ArH","x":69,"y":16},{"s":"rGO/ TiO₂-6ArH","x":73,"y":12},{"s":"rGO/ TiO₂-6ArH","x":77,"y":9},{"s":"rGO/ TiO₂-6ArH","x":81,"y":8},{"s":"rGO/ TiO₂-6ArH","x":85,"y":9},{"s":"rGO/ TiO₂-6ArH","x":89,"y":11},{"s":"rGO/ TiO₂-6ArH","x":93,"y":14},{"s":"rGO/ TiO₂-6ArH","x":97,"y":19},{"s":"rGO/ TiO₂-6ArH","x":101,"y":25},{"s":"rGO/ TiO₂-6ArH","x":104,"y":31},{"s":"rGO/ TiO₂-6ArH","x":107,"y":38},{"s":"rGO/ TiO₂-6ArH","x":110,"y":45},{"s":"rGO/ TiO₂-6ArH","x":113,"y":52},{"s":"rGO/ TiO₂-6ArH","x":116,"y":59},{"s":"rGO/ TiO₂-6ArH","x":119,"y":65},
      {"s":"rGO/ TiO₂-7ArH","x":0,"y":3},{"s":"rGO/ TiO₂-7ArH","x":2,"y":6},{"s":"rGO/ TiO₂-7ArH","x":4,"y":9},{"s":"rGO/ TiO₂-7ArH","x":7,"y":11},{"s":"rGO/ TiO₂-7ArH","x":10,"y":12},{"s":"rGO/ TiO₂-7ArH","x":14,"y":13},{"s":"rGO/ TiO₂-7ArH","x":18,"y":14},{"s":"rGO/ TiO₂-7ArH","x":22,"y":14},{"s":"rGO/ TiO₂-7ArH","x":26,"y":14},{"s":"rGO/ TiO₂-7ArH","x":30,"y":14},{"s":"rGO/ TiO₂-7ArH","x":34,"y":13},{"s":"rGO/ TiO₂-7ArH","x":38,"y":13},{"s":"rGO/ TiO₂-7ArH","x":42,"y":12},{"s":"rGO/ TiO₂-7ArH","x":46,"y":12},{"s":"rGO/ TiO₂-7ArH","x":50,"y":11},{"s":"rGO/ TiO₂-7ArH","x":54,"y":11},{"s":"rGO/ TiO₂-7ArH","x":58,"y":12},{"s":"rGO/ TiO₂-7ArH","x":62,"y":12},{"s":"rGO/ TiO₂-7ArH","x":66,"y":13},{"s":"rGO/ TiO₂-7ArH","x":70,"y":14},{"s":"rGO/ TiO₂-7ArH","x":74,"y":15},{"s":"rGO/ TiO₂-7ArH","x":78,"y":16},{"s":"rGO/ TiO₂-7ArH","x":82,"y":17},{"s":"rGO/ TiO₂-7ArH","x":86,"y":19},{"s":"rGO/ TiO₂-7ArH","x":90,"y":21},{"s":"rGO/ TiO₂-7ArH","x":94,"y":23},{"s":"rGO/ TiO₂-7ArH","x":98,"y":26},{"s":"rGO/ TiO₂-7ArH","x":102,"y":29},{"s":"rGO/ TiO₂-7ArH","x":106,"y":33},{"s":"rGO/ TiO₂-7ArH","x":110,"y":38},{"s":"rGO/ TiO₂-7ArH","x":114,"y":42},{"s":"rGO/ TiO₂-7ArH","x":118,"y":47},{"s":"rGO/ TiO₂-7ArH","x":122,"y":52},{"s":"rGO/ TiO₂-7ArH","x":126,"y":57},{"s":"rGO/ TiO₂-7ArH","x":130,"y":62},{"s":"rGO/ TiO₂-7ArH","x":134,"y":68},{"s":"rGO/ TiO₂-7ArH","x":138,"y":73},{"s":"rGO/ TiO₂-7ArH","x":142,"y":78},{"s":"rGO/ TiO₂-7ArH","x":146,"y":82}
    ]
  },
  "columns": 2,
  "spacing": {"row": 43, "column": 48},
  "bounds": "flush",
  "align": "each",
  "center": true,
  "resolve": {"scale": {"x": "independent", "y": "independent", "color": "independent", "strokeDash": "independent", "shape": "independent", "fill": "independent", "stroke": "independent", "size": "independent"}, "legend": {"color": "independent", "strokeDash": "independent", "shape": "independent", "fill": "independent", "stroke": "independent", "size": "independent"}},
  "concat": [
    {
      "width": 278, "height": 250,
      "title": {"text": "(a)", "dx": -58, "dy": 25},
      "data": {"name": "a"},
      "layer": [
        {
          "mark": {"type": "line", "strokeWidth": 2},
          "encoding": {
            "x": {"field": "c", "type": "quantitative", "scale": {"domain": [0, 20.5], "nice": false, "zero": false},
                  "axis": {"title": "Cycle number", "values": [0,2.5,5,7.5,10,12.5,15,17.5,20], "labelExpr": "datum.value % 5 == 0 ? format(datum.value, 'd') : ''"}},
            "y": {"field": "v", "type": "quantitative", "scale": {"domain": [0, 338], "nice": false},
                  "axis": {"title": "Capacity (mAh g⁻¹)", "titleFontSize": 21, "titlePadding": 3, "labelPadding": 10, "values": [0,50,100,150,200,250,300], "labelExpr": "datum.value % 100 == 0 ? format(datum.value, 'd') : ''"}},
            "color": {"field": "s", "type": "nominal", "sort": null,
                      "scale": {"range": ["black","#e8251f","black","#e8251f"]},
                      "legend": {"title": null, "orient": "none", "legendX": 35.5, "legendY": 122, "symbolType": "M-4.4,0H4.4", "symbolSize": 64, "symbolStrokeWidth": 2, "labelOffset": 19, "rowPadding": 8,
                                 "labelColor": {"expr": "indexof(datum.value, '7Ar') >= 0 ? '#e8251f' : 'black'"}}}
          }
        },
        {
          "mark": {"type": "point", "strokeWidth": 1.5, "opacity": 1, "size": 70},
          "encoding": {
            "x": {"field": "c", "type": "quantitative"},
            "y": {"field": "v", "type": "quantitative"},
            "shape": {"field": "s", "type": "nominal", "scale": {"domain": ["rGO/ TiO₂-6Ar","rGO/ TiO₂-7Ar","rGO/ TiO₂-6ArH","rGO/ TiO₂-7ArH"], "range": ["square","circle","square","circle"]},
                      "legend": {"title": null, "orient": "none", "legendX": 35.5, "legendY": 122, "symbolSize": 70, "symbolStrokeWidth": 1.5, "labelExpr": "''", "rowPadding": 8, "labelOffset": 19, "zindex": 1}},
            "stroke": {"field": "s", "type": "nominal", "scale": {"domain": ["rGO/ TiO₂-6Ar","rGO/ TiO₂-7Ar","rGO/ TiO₂-6ArH","rGO/ TiO₂-7ArH"], "range": ["black","#e8251f","black","#e8251f"]},
                      "legend": {"title": null, "orient": "none", "legendX": 35.5, "legendY": 122, "symbolSize": 70, "symbolStrokeWidth": 1.5, "labelExpr": "''", "rowPadding": 8, "labelOffset": 19, "zindex": 1}},
            "fill": {"field": "s", "type": "nominal", "scale": {"domain": ["rGO/ TiO₂-6Ar","rGO/ TiO₂-7Ar","rGO/ TiO₂-6ArH","rGO/ TiO₂-7ArH"], "range": ["white","white","black","#e8251f"]},
                      "legend": {"title": null, "orient": "none", "legendX": 35.5, "legendY": 122, "symbolSize": 70, "symbolStrokeWidth": 1.5, "labelExpr": "''", "rowPadding": 8, "labelOffset": 19, "zindex": 1}}
          }
        }
      ]
    },
    {
      "width": 289, "height": 248,
      "title": {"text": "(b)", "dx": -43, "dy": 22},
      "data": {"name": "b"},
      "mark": {"type": "line", "strokeWidth": 1.8},
      "encoding": {
        "x": {"field": "x", "type": "quantitative", "scale": {"domain": [-10, 279], "nice": false, "zero": false},
              "axis": {"title": "Capacity (mAh g⁻¹)", "values": [0,50,100,150,200,250], "labelExpr": "datum.value % 100 == 0 ? format(datum.value, 'd') : ''"}},
        "y": {"field": "y", "type": "quantitative", "scale": {"domain": [0.862, 3.044], "nice": false, "zero": false},
              "axis": {"title": "Voltage (V)", "labelPadding": 10, "values": [1,1.5,2,2.5,3], "labelExpr": "datum.value % 1 == 0 ? format(datum.value, 'd') : ''"}},
        "detail": {"field": "k"},
        "color": {"field": "s", "type": "nominal", "sort": ["rGO/TiO₂-6Ar","rGO/TiO₂-7Ar","rGO/TiO₂-6ArH","rGO/TiO₂-7ArH"],
                  "scale": {"range": ["black","#e8251f","black","#e8251f"]},
                  "legend": {"title": null, "legendX": 28, "legendY": 12, "symbolType": "M-4.6,0H4.6", "symbolSize": 64, "symbolStrokeWidth": 2, "labelOffset": 14, "rowPadding": 9,
                             "labelColor": {"expr": "indexof(datum.value, '7Ar') >= 0 ? '#e8251f' : 'black'"}}},
        "strokeDash": {"field": "s", "type": "nominal", "sort": ["rGO/TiO₂-6Ar","rGO/TiO₂-7Ar","rGO/TiO₂-6ArH","rGO/TiO₂-7ArH"],
                  "scale": {"range": [[8,5],[8,5],[1,0],[1,0]]},
                  "legend": {"title": null, "legendX": 28, "legendY": 12, "symbolType": "M-4.6,0H4.6", "symbolSize": 64, "symbolStrokeWidth": 2, "labelOffset": 14, "rowPadding": 9,
                             "labelColor": {"expr": "indexof(datum.value, '7Ar') >= 0 ? '#e8251f' : 'black'"}}}
      }
    },
    {
      "width": 288, "height": 250,
      "title": {"text": "(c)", "dx": -40, "dy": 24},
      "data": {"name": "c"},
      "mark": {"type": "line", "strokeWidth": 1.5},
      "encoding": {
        "x": {"field": "f", "type": "quantitative", "scale": {"domain": [319.5, 321.0], "nice": false, "zero": false},
              "axis": {"title": "Magnetic Field (mT)", "values": [319.5,319.75,320,320.25,320.5,320.75,321], "labelExpr": "(datum.value * 4) % 2 == 0 ? format(datum.value, '.1f') : ''"}},
        "y": {"field": "i", "type": "quantitative", "scale": {"domain": [-112, 138], "nice": false, "zero": false},
              "axis": {"title": "Intensity (a.u.)", "labels": false, "ticks": false, "titlePadding": 11}},
        "color": {"field": "s", "type": "nominal", "sort": ["rGO/ TiO₂-6Ar","rGO/ TiO₂-7Ar","rGO/ TiO₂-6ArH","rGO/ TiO₂-7ArH"],
                  "scale": {"range": ["black","#ff1a1a","#2020e8","#f020f0"]},
                  "legend": {"title": null, "legendX": 152, "legendY": 7.5, "symbolType": "M-4.6,0H4.6", "symbolSize": 64, "symbolStrokeWidth": 1.5, "labelOffset": 12, "labelFontSize": 14.5, "rowPadding": 8.5,
                             "labelColor": {"expr": "indexof(datum.value, '6ArH') >= 0 ? '#2020c8' : indexof(datum.value, '7ArH') >= 0 ? '#e020e0' : indexof(datum.value, '7Ar') >= 0 ? '#e8251f' : 'black'"}}}
      }
    },
    {
      "width": 280, "height": 248,
      "title": {"text": "(d)", "dx": -42, "dy": 25},
      "data": {"name": "d"},
      "mark": {"type": "point", "strokeWidth": 1, "opacity": 1},
      "encoding": {
        "x": {"field": "x", "type": "quantitative", "scale": {"domain": [-12, 475], "nice": false, "zero": false},
              "axis": {"title": "Z' (ohm)", "values": [0,50,100,150,200,250,300,350,400,450], "labelExpr": "datum.value % 100 == 0 ? format(datum.value, 'd') : ''"}},
        "y": {"field": "y", "type": "quantitative", "scale": {"domain": [-7, 482], "nice": false, "zero": false},
              "axis": {"title": "- Z'' (ohm)", "labelPadding": 8, "values": [0,100,200,300,400], "labelExpr": "datum.value % 200 == 0 ? format(datum.value, 'd') : ''"}},
        "shape": {"field": "s", "type": "nominal", "scale": {"domain": ["rGO/ TiO₂-6Ar","rGO/ TiO₂-7Ar","rGO/ TiO₂-6ArH","rGO/ TiO₂-7ArH"], "range": ["square","circle","square","circle"]},
                  "legend": {"title": null, "legendX": 24, "legendY": 16, "labelOffset": 19, "rowPadding": 8.5, "labelColor": {"expr": "indexof(datum.value, '7Ar') >= 0 ? '#e8251f' : 'black'"}}},
        "stroke": {"field": "s", "type": "nominal", "scale": {"domain": ["rGO/ TiO₂-6Ar","rGO/ TiO₂-7Ar","rGO/ TiO₂-6ArH","rGO/ TiO₂-7ArH"], "range": ["#333333","#e8251f","black","#e8251f"]},
                  "legend": {"title": null, "legendX": 24, "legendY": 16, "labelOffset": 19, "rowPadding": 8.5, "labelColor": {"expr": "indexof(datum.value, '7Ar') >= 0 ? '#e8251f' : 'black'"}}},
        "fill": {"field": "s", "type": "nominal", "scale": {"domain": ["rGO/ TiO₂-6Ar","rGO/ TiO₂-7Ar","rGO/ TiO₂-6ArH","rGO/ TiO₂-7ArH"], "range": ["transparent","transparent","black","#e8251f"]},
                  "legend": {"title": null, "legendX": 24, "legendY": 16, "labelOffset": 19, "rowPadding": 8.5, "labelColor": {"expr": "indexof(datum.value, '7Ar') >= 0 ? '#e8251f' : 'black'"}}},
        "size": {"field": "s", "type": "nominal", "scale": {"domain": ["rGO/ TiO₂-6Ar","rGO/ TiO₂-7Ar","rGO/ TiO₂-6ArH","rGO/ TiO₂-7ArH"], "range": [55, 64, 45, 100]},
                  "legend": {"title": null, "legendX": 24, "legendY": 16, "labelOffset": 19, "rowPadding": 8.5, "labelColor": {"expr": "indexof(datum.value, '7Ar') >= 0 ? '#e8251f' : 'black'"}}}
      }
    }
  ]
}
